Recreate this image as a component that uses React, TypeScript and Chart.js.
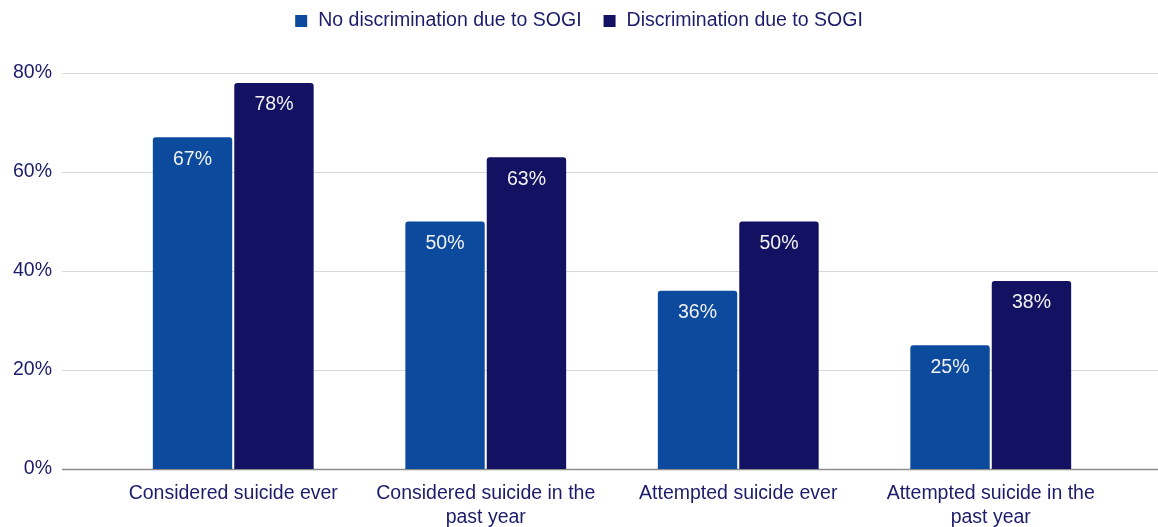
import React, { useEffect, useRef } from "react";
import { Chart, registerables } from "chart.js";

Chart.register(...registerables);

const categories: (string | string[])[] = [
  "Considered suicide ever",
  ["Considered suicide in the", "past year"],
  "Attempted suicide ever",
  ["Attempted suicide in the", "past year"],
];
const seriesNames = ["No discrimination due to SOGI", "Discrimination due to SOGI"];
const noDiscrimination = [67, 50, 36, 25];
const discrimination = [78, 63, 50, 38];
const yTicks = [0, 20, 40, 60, 80];

const FONT = "'Liberation Sans', Arial, sans-serif";
const TEXT = "#1c1c6b";
const LIGHT = "#0b4a9c";
const DARK = "#131162";

// Horizontal grid lines spanning wider than the bar area, plus the darker baseline
const gridPlugin = {
  id: "wideGrid",
  beforeDatasetsDraw(chart: any) {
    const { ctx, scales } = chart;
    const y = scales.y;
    const x0 = 62;
    const x1 = chart.width;
    ctx.save();
    yTicks.forEach((v) => {
      const py = Math.round(y.getPixelForValue(v)) + 0.5;
      ctx.beginPath();
      ctx.moveTo(x0, py);
      ctx.lineTo(x1, py);
      if (v === 0) {
        ctx.strokeStyle = "#8c8c8c";
        ctx.lineWidth = 1.5;
      } else {
        ctx.strokeStyle = "#d9d9d9";
        ctx.lineWidth = 1;
      }
      ctx.stroke();
    });
    ctx.restore();
  },
};

// Centered legend row above the plot
const legendPlugin = {
  id: "topLegend",
  afterDraw(chart: any) {
    const { ctx } = chart;
    const box = 12;
    const boxGap = 11;
    const itemGap = 22;
    ctx.save();
    ctx.font = `19.5px ${FONT}`;
    const items = chart.data.datasets.map((ds: any) => ({
      label: ds.label as string,
      color: ds.backgroundColor as string,
      w: ctx.measureText(ds.label).width,
    }));
    const total =
      items.reduce((s: number, it: any) => s + box + boxGap + it.w, 0) + itemGap * (items.length - 1);
    let x = (chart.width - total) / 2;
    const cy = 21;
    ctx.textBaseline = "middle";
    ctx.textAlign = "left";
    items.forEach((it: any) => {
      ctx.fillStyle = it.color;
      ctx.fillRect(x, cy - box / 2, box, box);
      x += box + boxGap;
      ctx.fillStyle = TEXT;
      ctx.fillText(it.label, x, cy);
      x += it.w + itemGap;
    });
    ctx.restore();
  },
};

// Value labels drawn inside the top of each bar
const valueLabelPlugin = {
  id: "valueLabels",
  afterDatasetsDraw(chart: any) {
    const { ctx } = chart;
    ctx.save();
    ctx.font = `19.5px ${FONT}`;
    ctx.fillStyle = "#f2f2f2";
    ctx.textAlign = "center";
    ctx.textBaseline = "middle";
    chart.data.datasets.forEach((ds: any, di: number) => {
      const meta = chart.getDatasetMeta(di);
      meta.data.forEach((bar: any, i: number) => {
        const v = ds.data[i];
        ctx.fillText(`${Math.round(v)}%`, bar.x, bar.y + 22);
      });
    });
    ctx.restore();
  },
};

export default function App() {
  const canvasRef = useRef<HTMLCanvasElement | null>(null);

  useEffect(() => {
    if (!canvasRef.current) return;
    const chart = new Chart(canvasRef.current, {
      type: "bar",
      data: {
        labels: categories,
        datasets: [
          {
            label: seriesNames[0],
            data: noDiscrimination,
            backgroundColor: LIGHT,
            borderRadius: 3,
            categoryPercentage: 0.645,
            barPercentage: 0.975,
          },
          {
            label: seriesNames[1],
            data: discrimination,
            backgroundColor: DARK,
            borderRadius: 3,
            categoryPercentage: 0.645,
            barPercentage: 0.975,
          },
        ],
      },
      options: {
        responsive: false,
        animation: false,
        layout: { padding: { left: 0, right: 41, top: 73, bottom: 0 } },
        plugins: {
          legend: { display: false },
          tooltip: { enabled: false },
        },
        scales: {
          x: {
            grid: { display: false, drawTicks: false },
            border: { display: false },
            ticks: {
              color: TEXT,
              font: { family: FONT, size: 19.5, lineHeight: 1.23 },
              padding: 13,
              maxRotation: 0,
              autoSkip: false,
            },
            afterFit(scale: any) {
              scale.height = 58;
            },
          },
          y: {
            min: 0,
            max: 80,
            grid: { display: false, drawTicks: false },
            border: { display: false },
            ticks: {
              stepSize: 20,
              color: TEXT,
              font: { family: FONT, size: 19.5 },
              padding: 55,
              callback: (v: any) => `${v}%`,
            },
            afterFit(scale: any) {
              scale.width = 107;
              // the wide label gap should not push the plot area vertically
              scale.paddingTop = 0;
              scale.paddingBottom = 0;
            },
          },
        },
      },
      plugins: [gridPlugin, valueLabelPlugin, legendPlugin],
    });
    return () => chart.destroy();
  }, []);

  return (
    <div style={{ position: "absolute", left: 0, top: 0, width: 1158, height: 527, background: "#fff" }}>
      <canvas ref={canvasRef} width={1158} height={527} />
    </div>
  );
}
